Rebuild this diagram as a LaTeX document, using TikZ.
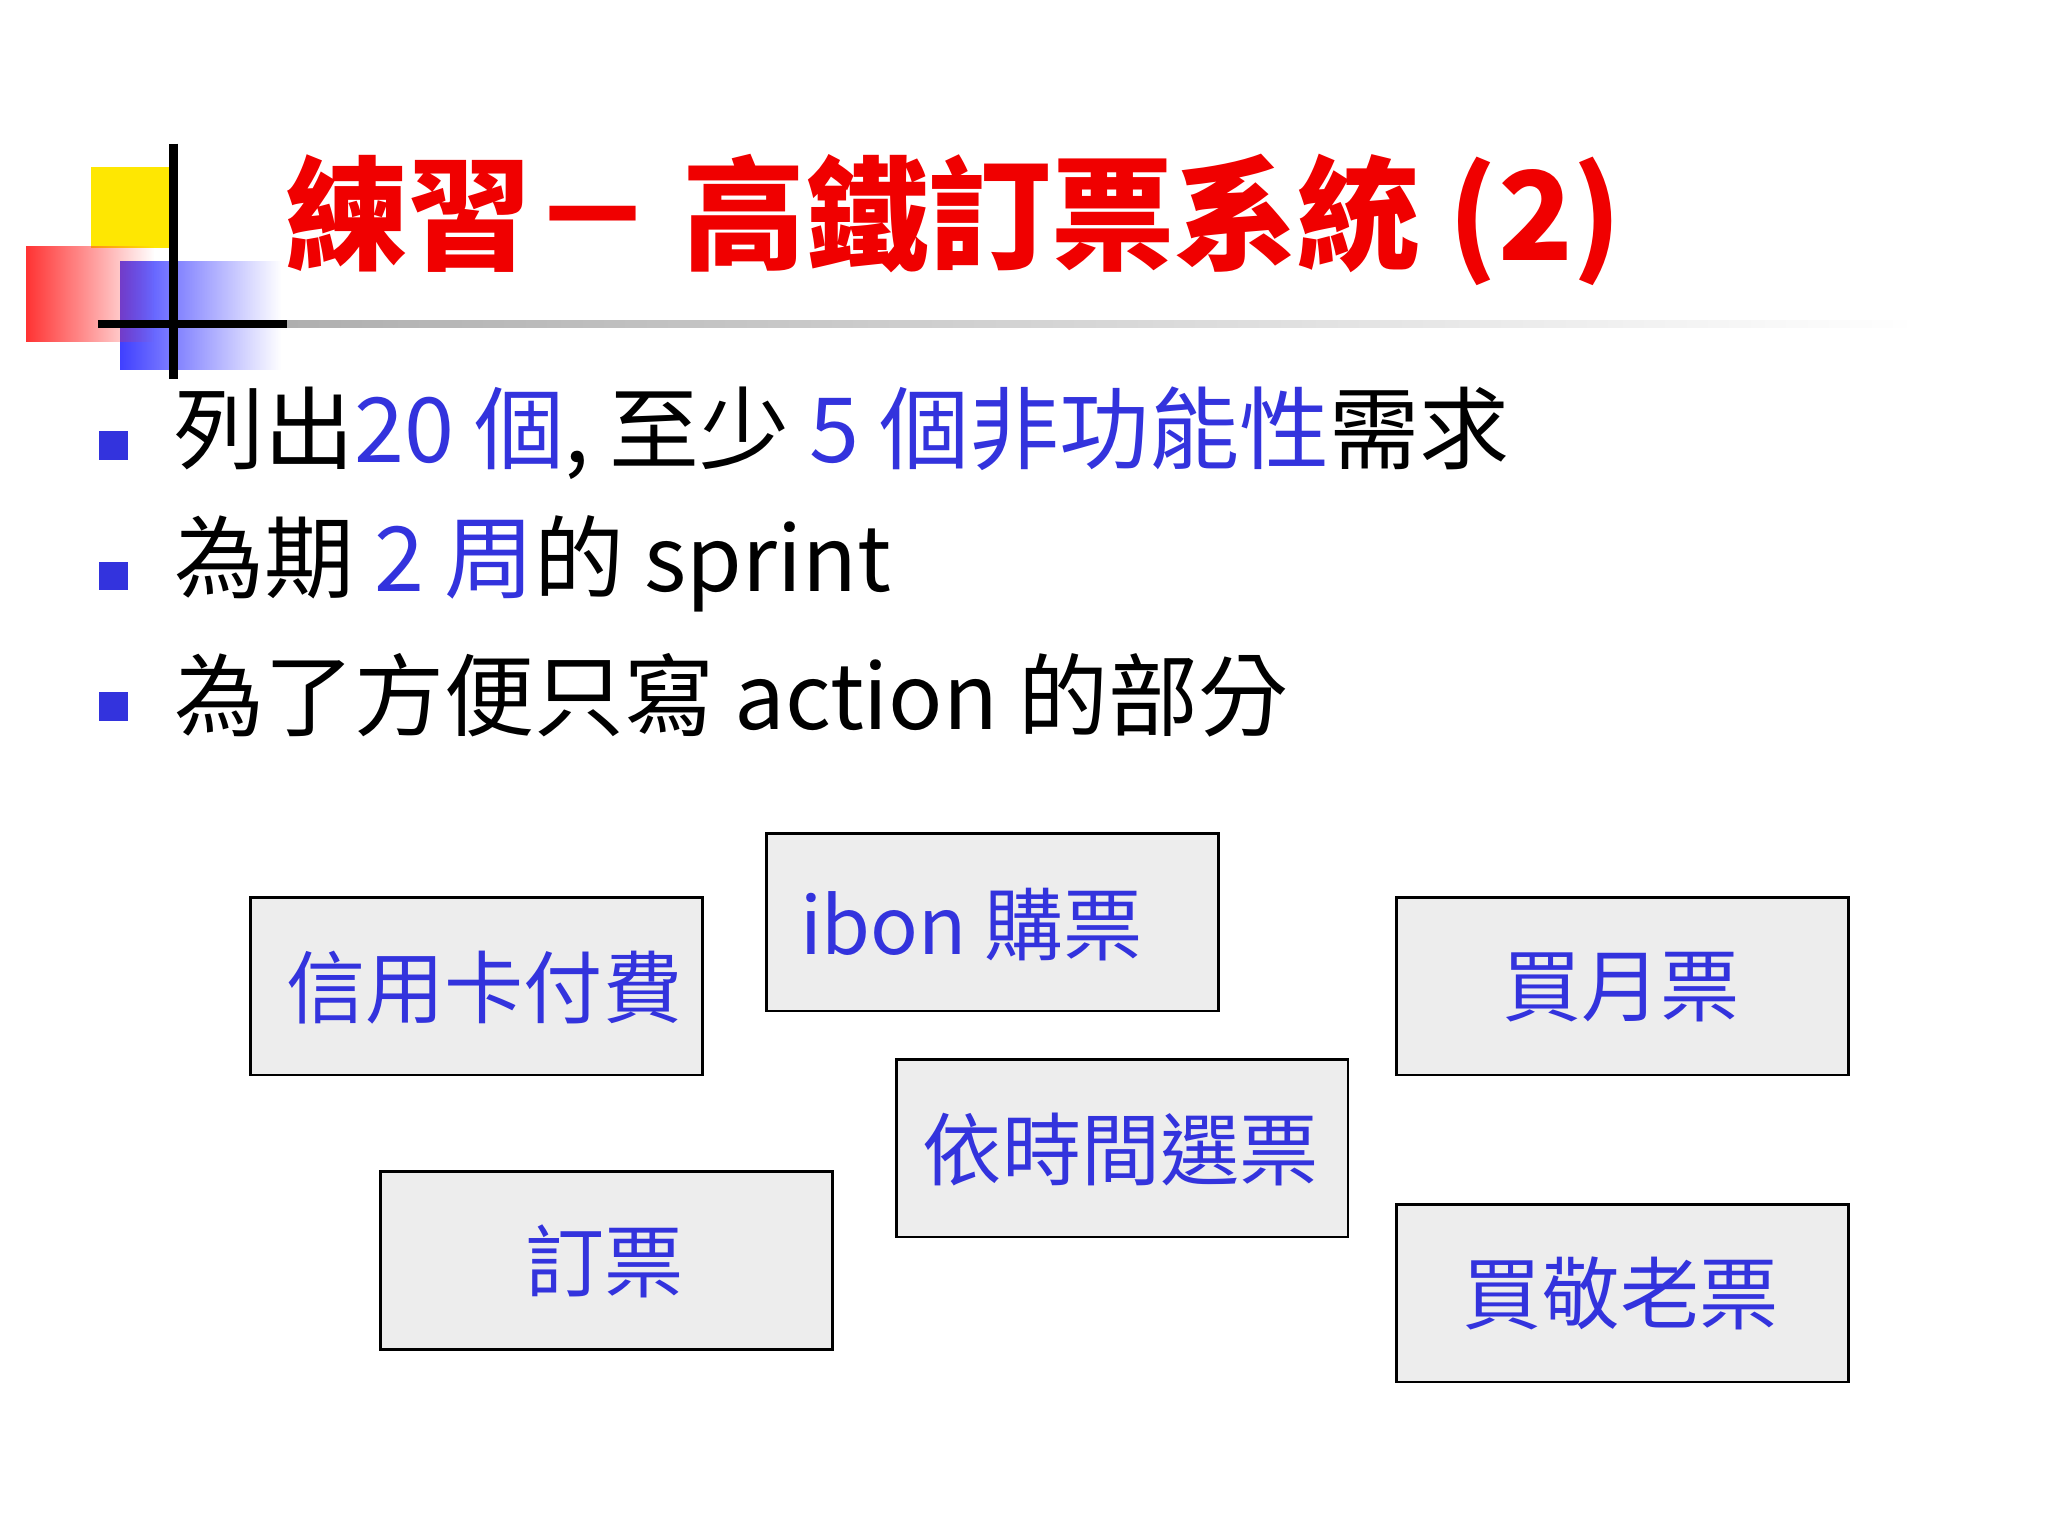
\documentclass[tikz,border=0pt]{standalone}
\usepackage{fontspec}
\setmainfont{Noto Sans CJK TC}
\usetikzlibrary{fadings}
\definecolor{tblue}{RGB}{51,51,221}
\definecolor{tred}{RGB}{240,0,0}
\tikzset{
  box/.style={draw=black,line width=0.8pt,fill=gray!14,minimum width=346*0.013061cm,minimum height=136*0.013061cm,anchor=north west,inner sep=0pt},
  boxtxt/.style={text=tblue,font=\fontsize{22.5}{26}\selectfont},
  bul/.style={fill=tblue,minimum size=22*0.013061cm,inner sep=0pt},
  btxt/.style={anchor=west,font=\fontsize{25.6}{30}\selectfont,inner sep=0pt}
}
\begin{document}
\begin{tikzpicture}[x=0.013061cm,y=-0.013061cm]
\useasboundingbox (0,0) rectangle (1568,1176);
\fill[white] (0,0) rectangle (1568,1176);
% decoration
\fill[yellow!90!orange] (70,128) rectangle (135,190);
\fill[blue!75!white, path fading=east] (92,200) rectangle (215,283);
\fill[red!80, path fading=east] (20,188) rectangle (118,262);
\fill[gray!70, path fading=east] (75,245) rectangle (1460,251);
\draw[black,line width=2.5pt] (75,248) -- (220,248);
\draw[black,line width=2.5pt] (133,110) -- (133,290);
\node[anchor=west,inner sep=0pt,text=tred,font=\fontsize{35}{40}\selectfont\bfseries] (title) at (218,168) {練習－ 高鐵訂票系統 (2)};
% bullets
\node[bul] (b1) at (87,341) {};
\node[bul] (b2) at (87,441) {};
\node[bul] (b3) at (87,541) {};
\node[btxt] (t1) at (133,332) {列出\textcolor{tblue}{20 個}, 至少 \textcolor{tblue}{5 個非功能性}需求};
\node[btxt] (t2) at (133,432) {為期 \textcolor{tblue}{2 周}的 sprint};
\node[btxt] (t3) at (133,532) {為了方便只寫 action 的部分};
% boxes
\node[box] (A) at (191,686) {};
\node[boxtxt,anchor=west] at (210,756) {信用卡付費};
\node[box] (B) at (586,637) {};
\node[boxtxt,anchor=west] at (603,708) {ibon 購票};
\node[box] (C) at (1068,686) {};
\node[boxtxt] at (1241,756) {買月票};
\node[box] (D) at (685,810) {};
\node[boxtxt] at (858,880) {依時間選票};
\node[box] (E) at (290,896) {};
\node[boxtxt] at (463,966) {訂票};
\node[box] (F) at (1068,921) {};
\node[boxtxt] at (1241,990) {買敬老票};
\end{tikzpicture}
\end{document}
